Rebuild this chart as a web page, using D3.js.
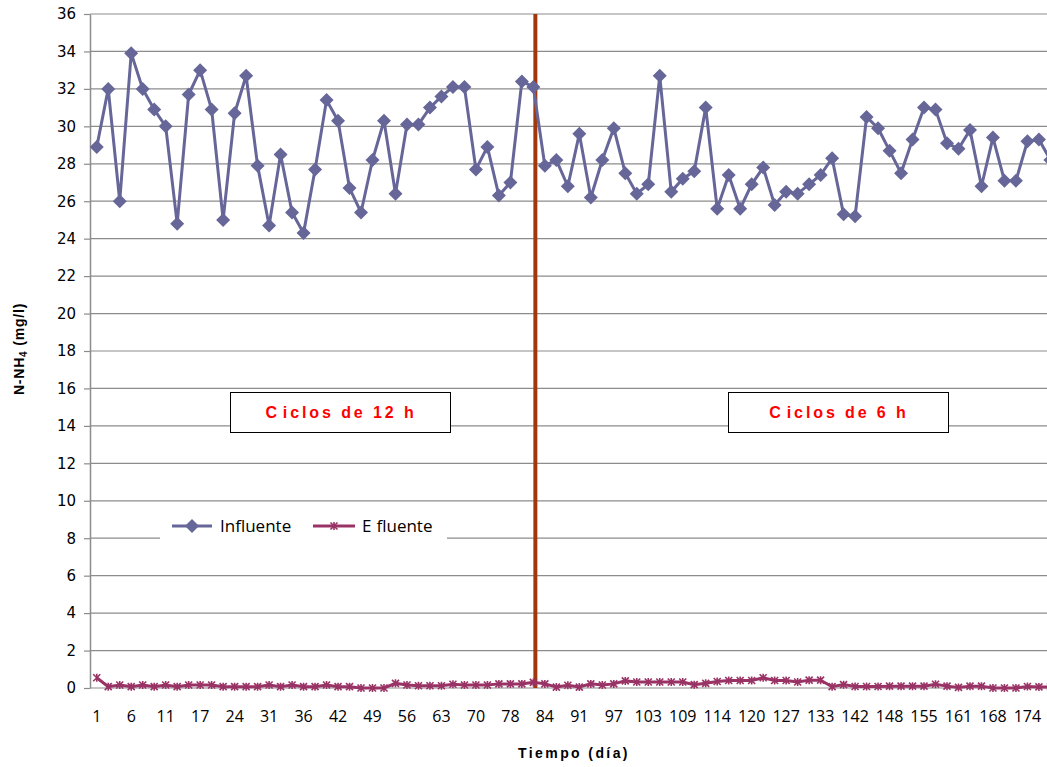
<!DOCTYPE html>
<html>
<head>
<meta charset="utf-8">
<script src="https://cdn.jsdelivr.net/npm/d3@7/dist/d3.min.js"></script>
<style>
  body { margin: 0; background: #fff; }
  svg { display: block; }
</style>
</head>
<body>
<svg id="chart"></svg>
<script>
// days (category axis), one entry per sample
const days = [1, 3, 4, 6, 8, 10, 11, 13, 15, 17, 20, 22, 24, 27, 29, 31, 32, 34, 36, 38, 40,
  42, 45, 47, 49, 52, 54, 56, 59, 61, 63, 66, 68, 70, 73, 76, 78, 80, 82, 84, 87, 89, 91, 94,
  96, 97, 99, 101, 103, 105, 107, 109, 110, 112, 114, 116, 118, 120, 122, 125, 127, 129, 131,
  133, 136, 139, 142, 144, 146, 148, 151, 153, 155, 157, 159, 161, 164, 166, 168, 170, 172,
  174, 176, 178]

const influente = [28.9, 32.0, 26.0, 33.9, 32.0, 30.9, 30.0, 24.8, 31.7, 33.0, 30.9, 25.0, 30.7,
  32.7, 27.9, 24.7, 28.5, 25.4, 24.3, 27.7, 31.4, 30.3, 26.7, 25.4, 28.2, 30.3, 26.4, 30.1, 30.1,
  31.0, 31.6, 32.1, 32.1, 27.7, 28.9, 26.3, 27.0, 32.4, 32.1, 27.9, 28.2, 26.8, 29.6, 26.2, 28.2,
  29.9, 27.5, 26.4, 26.9, 32.7, 26.5, 27.2, 27.6, 31.0, 25.6, 27.4, 25.6, 26.9, 27.8, 25.8, 26.5,
  26.4, 26.9, 27.4, 28.3, 25.3, 25.2, 30.5, 29.9, 28.7, 27.5, 29.3, 31.0, 30.9, 29.1, 28.8, 29.8,
  26.8, 29.4, 27.1, 27.1, 29.2, 29.3, 28.2]

const efluente = [0.55, 0.07, 0.16, 0.07, 0.16, 0.07, 0.16, 0.07, 0.16, 0.16, 0.16, 0.07, 0.07,
  0.07, 0.07, 0.16, 0.07, 0.16, 0.07, 0.07, 0.16, 0.07, 0.07, 0.0, 0.0, 0.0, 0.25, 0.16, 0.12,
  0.12, 0.12, 0.2, 0.16, 0.16, 0.16, 0.22, 0.22, 0.22, 0.3, 0.22, 0.05, 0.15, 0.05, 0.22, 0.16,
  0.22, 0.38, 0.32, 0.32, 0.32, 0.32, 0.32, 0.18, 0.25, 0.35, 0.4, 0.4, 0.4, 0.55, 0.4, 0.4,
  0.32, 0.42, 0.42, 0.07, 0.18, 0.08, 0.08, 0.08, 0.1, 0.1, 0.1, 0.1, 0.2, 0.1, 0.03, 0.1, 0.1,
  0.0, 0.0, 0.0, 0.08, 0.06, 0.06]

const xTickDays = [1, 6, 11, 17, 24, 31, 36, 42, 49, 56, 63, 70, 78, 84, 91, 97, 103, 109, 114,
  120, 127, 133, 142, 148, 155, 161, 168, 174]
const yTicks = [0, 2, 4, 6, 8, 10, 12, 14, 16, 18, 20, 22, 24, 26, 28, 30, 32, 34, 36]
const changeDay = 82

const width = 1047
const height = 767
const plotLeft = 91
const step = 11.49
const plotTop = 14
const plotBottom = 688

const colInf = "#666699"
const colEf = "#993366"
const grid = "#8c8c8c"

const svg = d3.select("#chart").attr("width", width).attr("height", height)

const x = d3.scaleBand().domain(days).range([plotLeft, plotLeft + days.length * step]).padding(0)
const cx = d => x(d) + x.bandwidth() / 2
const y = d3.scaleLinear().domain([0, 36]).range([plotBottom, plotTop])

// grid lines
svg.append("g")
  .selectAll("line")
  .data(yTicks)
  .join("line")
  .attr("x1", 90)
  .attr("x2", plotLeft + days.length * step)
  .attr("y1", d => y(d))
  .attr("y2", d => y(d))
  .attr("stroke", grid)
  .attr("stroke-width", 1.2)

// y axis
const yAxis = svg.append("g")
  .attr("transform", "translate(90,0)")
  .call(d3.axisLeft(y).tickValues(yTicks).tickSize(6).tickSizeOuter(0).tickPadding(8))
yAxis.select(".domain").attr("stroke", grid).attr("stroke-width", 1.5)
yAxis.selectAll(".tick line").attr("stroke", grid).attr("stroke-width", 1.2)
yAxis.selectAll("text")
  .attr("font-family", "DejaVu Sans")
  .attr("font-size", 15)
  .attr("fill", "#000")

// x axis
const xAxis = svg.append("g")
  .attr("transform", `translate(0,${plotBottom})`)
  .call(d3.axisBottom(x).tickValues(xTickDays).tickSize(0).tickSizeOuter(0))
xAxis.select(".domain").remove()
xAxis.selectAll("text")
  .attr("y", 34)
  .attr("dy", 0)
  .attr("font-family", "Open Sans")
  .attr("font-size", 16)
  .attr("fill", "#000")

// axis titles
svg.append("text")
  .attr("x", 574)
  .attr("y", 758)
  .attr("text-anchor", "middle")
  .attr("font-family", "Liberation Sans")
  .attr("font-weight", "bold")
  .attr("font-size", 14)
  .attr("letter-spacing", 2.4)
  .text("Tiempo (día)")

const yTitle = svg.append("text")
  .attr("transform", "translate(24,349) rotate(-90)")
  .attr("text-anchor", "middle")
  .attr("font-family", "Liberation Sans")
  .attr("font-weight", "bold")
  .attr("font-size", 14)
  .attr("letter-spacing", 0.8)
yTitle.append("tspan").text("N-NH")
yTitle.append("tspan").attr("font-size", 10).attr("dy", 3).text("4")
yTitle.append("tspan").attr("dy", -3).text(" (mg/l)")

// period boxes
const boxes = [
  { x: 230, first: "C", rest: "iclos de 12 h" },
  { x: 728, first: "C", rest: "iclos de 6 h" }
]
boxes.forEach(b => {
  svg.append("rect")
    .attr("x", b.x + 0.5).attr("y", 392.5)
    .attr("width", 220).attr("height", 40)
    .attr("fill", "#fff").attr("stroke", "#000").attr("stroke-width", 1)
  const t = svg.append("text")
    .attr("x", b.x + 111).attr("y", 418)
    .attr("text-anchor", "middle")
    .attr("font-family", "Liberation Sans")
    .attr("font-weight", "bold")
    .attr("font-size", 16)
    .attr("letter-spacing", 2.9)
    .attr("fill", "#ff0000")
  t.append("tspan").text(b.first)
  t.append("tspan").attr("dx", 3).text(b.rest)
})

// change of cycle line (drawn shape, sits just right of the day-82 sample)
svg.append("line")
  .attr("x1", cx(changeDay) + 2).attr("x2", cx(changeDay) + 2)
  .attr("y1", y(36)).attr("y2", y(0))
  .attr("stroke", "#a0380c")
  .attr("stroke-width", 4)

const diamond = "M0,-7L7,0L0,7L-7,0Z"
const star = "M-3.5,-3.5L3.5,3.5M-3.5,3.5L3.5,-3.5M0,-4L0,4"

const infData = days.map((d, i) => ({ day: d, v: influente[i] }))
const efData = days.map((d, i) => ({ day: d, v: efluente[i] }))
const line = d3.line().x(d => cx(d.day)).y(d => y(d.v))

// efluente
svg.append("path")
  .datum(efData)
  .attr("d", line)
  .attr("fill", "none")
  .attr("stroke", colEf)
  .attr("stroke-width", 3)
svg.append("g")
  .selectAll("path")
  .data(efData)
  .join("path")
  .attr("transform", d => `translate(${cx(d.day)},${y(d.v)})`)
  .attr("d", star)
  .attr("fill", "none")
  .attr("stroke", colEf)
  .attr("stroke-width", 1.6)

// influente
svg.append("path")
  .datum(infData)
  .attr("d", line)
  .attr("fill", "none")
  .attr("stroke", colInf)
  .attr("stroke-width", 3)
svg.append("g")
  .selectAll("path")
  .data(infData)
  .join("path")
  .attr("transform", d => `translate(${cx(d.day)},${y(d.v)})`)
  .attr("d", diamond)
  .attr("fill", colInf)

// legend
const lg = svg.append("g")
lg.append("rect")
  .attr("x", 160).attr("y", 508)
  .attr("width", 287).attr("height", 38)
  .attr("fill", "#fff")
lg.append("line")
  .attr("x1", 172).attr("x2", 212).attr("y1", 526).attr("y2", 526)
  .attr("stroke", colInf).attr("stroke-width", 3)
lg.append("path")
  .attr("transform", "translate(192,526)")
  .attr("d", diamond)
  .attr("fill", colInf)
lg.append("text")
  .attr("x", 220).attr("y", 532)
  .attr("font-family", "Open Sans")
  .attr("font-size", 17)
  .text("Influente")
lg.append("line")
  .attr("x1", 313).attr("x2", 355).attr("y1", 526).attr("y2", 526)
  .attr("stroke", colEf).attr("stroke-width", 3)
lg.append("path")
  .attr("transform", "translate(334,526)")
  .attr("d", star)
  .attr("fill", "none")
  .attr("stroke", colEf)
  .attr("stroke-width", 1.6)
const efText = lg.append("text")
  .attr("x", 362).attr("y", 532)
  .attr("font-family", "Open Sans")
  .attr("font-size", 17)
efText.append("tspan").text("E")
efText.append("tspan").attr("dx", 5).text("fluente")
</script>
</body>
</html>
